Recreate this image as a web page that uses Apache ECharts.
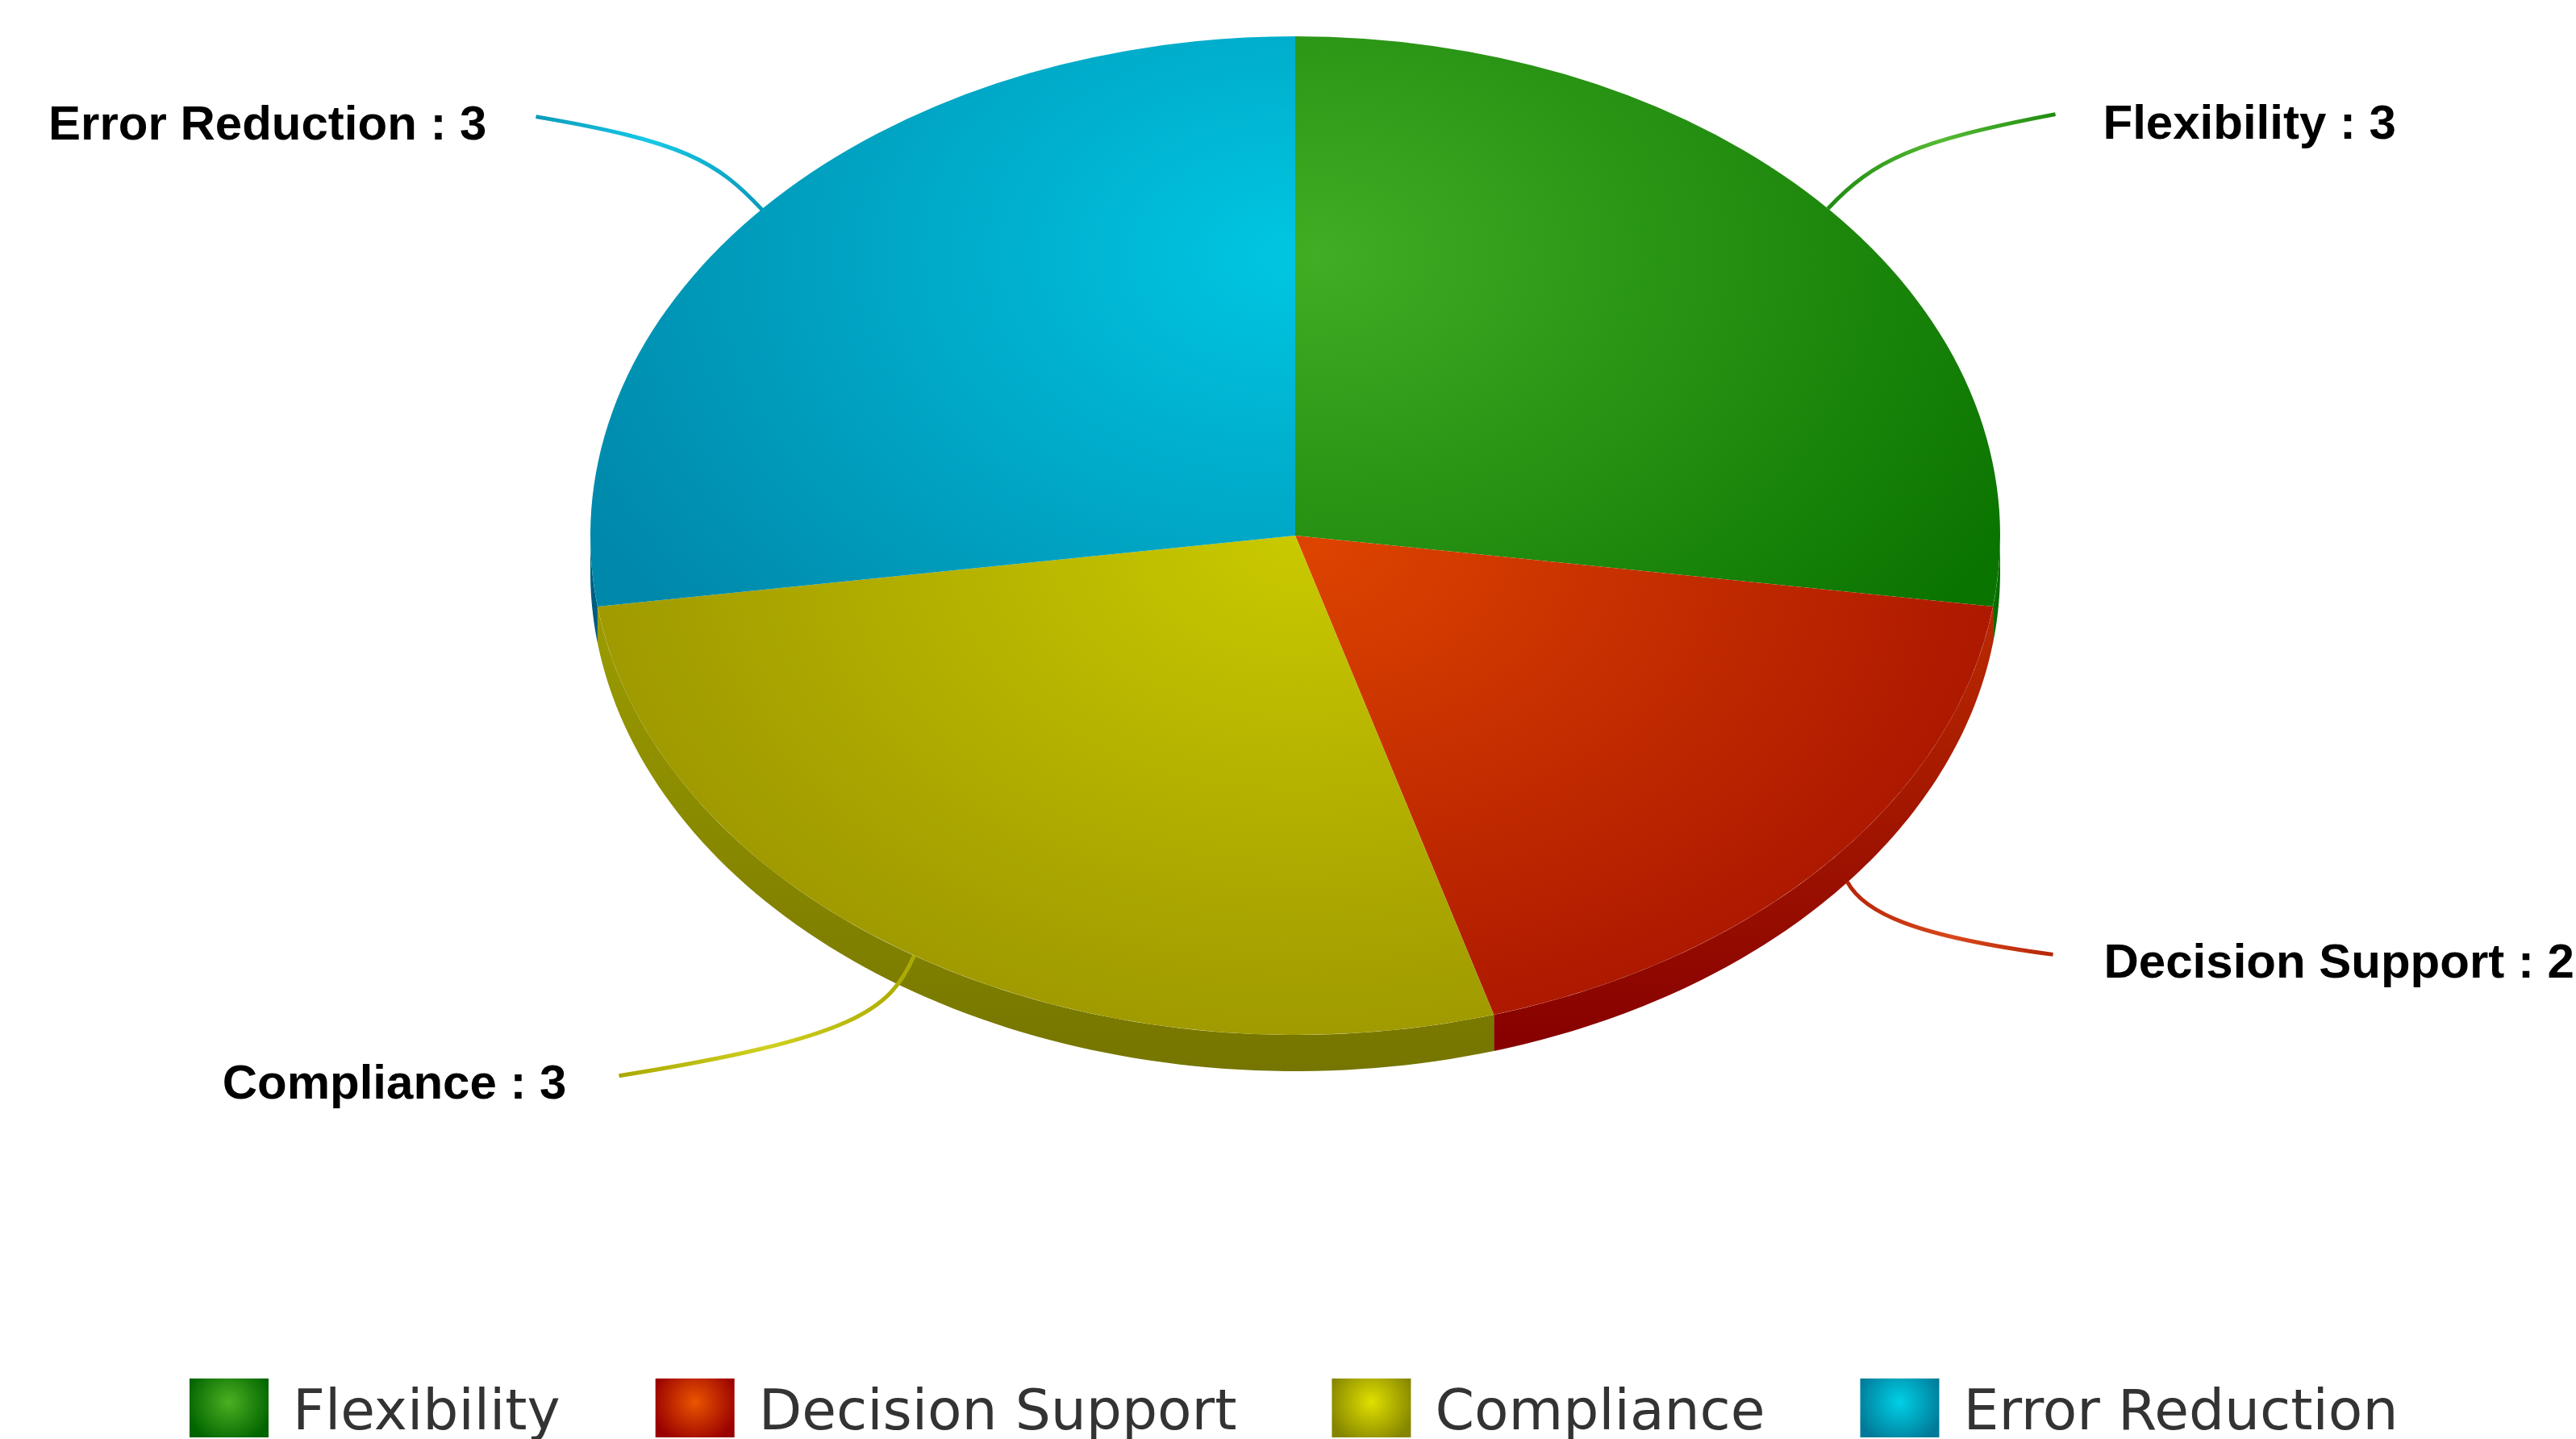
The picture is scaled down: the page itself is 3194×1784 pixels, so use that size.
<!DOCTYPE html>
<html>
<head>
<meta charset="utf-8">
<style>html,body{margin:0;padding:0;background:#fff}#c{width:3194px;height:1784px}</style>
<script src="https://cdn.jsdelivr.net/npm/echarts@6/dist/echarts.min.js"></script>
</head>
<body>
<div id="c"></div>
<script>
const categories = ['Flexibility', 'Decision Support', 'Compliance', 'Error Reduction'];
const values = [3, 2, 3, 3];

// styles
const centerColors = ['#41ad24', '#dd4400', '#c9c900', '#00c6e2'];
const edgeColors = ['#0a7400', '#a81400', '#9c9600', '#0088aa'];
const sideTop = ['#0a7400', '#bb2a00', '#9c9c00', '#00648a'];
const sideBottom = ['#0a6800', '#860000', '#757500', '#005878'];
const legendCenter = ['#4cb022', '#ea5500', '#e0e000', '#00d0e6'];
const legendEdge = ['#006400', '#990000', '#858500', '#007a98'];
const lineColors = ['#1f8a10', '#b52508', '#a8a800', '#0a9abb'];
const lineBright = ['#55bb33', '#d8481c', '#d0d020', '#18c8e6'];
// highlight position of each slice gradient relative to pie centre (in unsquashed px), and radius
const glow = [[24, -490, 990], [24, 20, 940], [0, 10, 950], [-6, -490, 990]];
// connector shape, relative to the rim point of the slice
const conn = [
  {cp1: [56, -60], cp2: [108, -84], end: [282, -117], side: 1},
  {cp1: [20, 37], cp2: [80, 67], end: [255, 90], side: 1},
  {cp1: [-30, 67], cp2: [-71, 102], end: [-366, 149], side: -1},
  {cp1: [-57, -61], cp2: [-98, -85], end: [-281, -116], side: -1}
];
const rimOffset = [[0, 0], [24, 24], [0, 0], [0, 2]];
const labelNudge = [[-4, 14], [0, 12], [-2, 12], [2, 12]];

const CX = 1606, CY = 664, RX = 874, RY = 619, DEPTH = 45;
const total = values.reduce((a, b) => a + b, 0);
const starts = [];
values.reduce((acc, v, i) => { starts[i] = acc; return acc + v; }, 0);

function radial(i) {
  const g = glow[i];
  return new echarts.graphic.RadialGradient(g[0], g[1], g[2], [
    {offset: 0, color: centerColors[i]},
    {offset: 1, color: edgeColors[i]}
  ], true);
}

// the visible wall of a slice: the rim arc and the same arc moved down by the depth
function wallPoints(a0, a1) {
  const from = Math.max(a0, 0), to = Math.min(a1, Math.PI);
  if (to <= from) return null;
  const upper = [], lower = [];
  const steps = 80;
  for (let k = 0; k <= steps; k++) {
    const a = from + (to - from) * k / steps;
    const x = CX + RX * Math.cos(a), y = CY + RY * Math.sin(a);
    upper.push([x, y]);
    lower.push([x, y + DEPTH]);
  }
  return upper.concat(lower.reverse());
}

function renderSlice(params, api) {
  const i = params.seriesIndex;
  const v = api.value(0);
  const a0 = -Math.PI / 2 + starts[i] / total * Math.PI * 2;
  const a1 = a0 + v / total * Math.PI * 2;
  const mid = (a0 + a1) / 2;
  const sx = CX + RX * Math.cos(mid) + rimOffset[i][0];
  const sy = CY + RY * Math.sin(mid) + rimOffset[i][1];
  const c = conn[i];
  const ex = sx + c.end[0], ey = sy + c.end[1];
  const labelText = categories[i] + ' : ' + v;
  const children = [
    {
      type: 'bezierCurve', z2: 5,
      shape: {x1: sx, y1: sy, x2: ex, y2: ey,
        cpx1: sx + c.cp1[0], cpy1: sy + c.cp1[1], cpx2: sx + c.cp2[0], cpy2: sy + c.cp2[1]},
      style: {
        fill: null, lineWidth: 5,
        stroke: new echarts.graphic.LinearGradient(0, 0, 1, 0, [
          {offset: 0, color: lineColors[i]},
          {offset: 0.5, color: lineBright[i]},
          {offset: 1, color: lineColors[i]}
        ])
      }
    },
    {
      type: 'sector', z2: 10, x: CX, y: CY, scaleX: 1, scaleY: RY / RX,
      shape: {cx: 0, cy: 0, r0: 0, r: RX, startAngle: a0, endAngle: a1, clockwise: true},
      style: {fill: radial(i)}
    },
    {
      type: 'text', z2: 12, x: ex + c.side * 63 + labelNudge[i][0], y: ey + labelNudge[i][1],
      style: {
        text: labelText, fill: '#000',
        font: 'bold 60px "Liberation Sans", Arial, sans-serif',
        align: c.side > 0 ? 'left' : 'right', verticalAlign: 'middle'
      }
    }
  ];
  const wall = wallPoints(a0, a1);
  if (wall) {
    children.unshift({
      type: 'polygon', z2: 1,
      shape: {points: wall},
      style: {
        fill: new echarts.graphic.LinearGradient(0, 0, 0, 1, [
          {offset: 0, color: sideTop[i]}, {offset: 1, color: sideBottom[i]}
        ])
      }
    });
  }
  return {type: 'group', children};
}

const chart = echarts.init(document.getElementById('c'), null, {renderer: 'canvas'});
chart.setOption({
  animation: false,
  backgroundColor: '#ffffff',
  legend: {
    left: 235, top: 1709,
    orient: 'horizontal',
    itemWidth: 98, itemHeight: 73, itemGap: 118, padding: 0,
    icon: 'rect',
    selectedMode: false,
    formatter: '{t|{name}}',
    textStyle: {
      fontFamily: '"DejaVu Sans"', fontSize: 69.5, color: '#333333',
      padding: [0, 0, 0, 25],
      rich: {
        t: {
          fontFamily: '"DejaVu Sans"', fontSize: 69.5, color: '#333333',
          padding: [16, 0, 0, 0]
        }
      }
    },
    data: categories.map((name, i) => ({
      name,
      icon: 'rect',
      itemStyle: {
        color: new echarts.graphic.RadialGradient(0.5, 0.4, 0.75, [
          {offset: 0, color: legendCenter[i]},
          {offset: 1, color: legendEdge[i]}
        ])
      }
    }))
  },
  series: categories.map((name, i) => ({
    type: 'custom',
    name,
    coordinateSystem: 'none',
    clip: false,
    silent: true,
    itemStyle: {color: centerColors[i]},
    data: [[values[i]]],
    renderItem: renderSlice
  }))
});
</script>
</body>
</html>
